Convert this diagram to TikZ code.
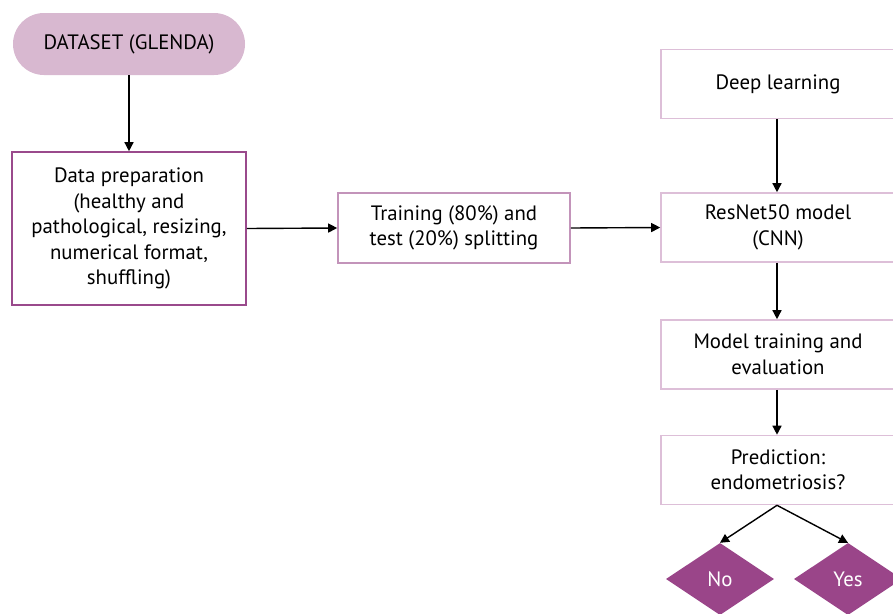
\documentclass[tikz,border=0pt]{standalone}
\usepackage{fontspec}
\setmainfont{PT Sans}
\usetikzlibrary{arrows.meta,shapes.geometric}
\definecolor{pillfill}{HTML}{D8B8D0}
\definecolor{darkpurple}{HTML}{9A4A8C}
\definecolor{midpurple}{HTML}{C394BA}
\definecolor{lightpurple}{HTML}{DDBFD8}
\definecolor{diafill}{HTML}{9A4589}
\begin{document}
\begin{tikzpicture}[x=1pt,y=-1pt,
  every node/.style={font=\fontsize{20.8}{25.5}\selectfont, align=center, text=black},
  conn/.style={line width=1.4pt, -{Triangle[length=9pt,width=9pt]}},
  boxA/.style={draw=darkpurple, line width=1.6pt, fill=white, minimum width=234pt, minimum height=153pt, inner sep=0pt},
  boxB/.style={draw=midpurple, line width=1.6pt, fill=white, minimum width=232pt, minimum height=70pt, inner sep=0pt},
  boxC/.style={draw=lightpurple, line width=1.6pt, fill=white, minimum width=234pt, minimum height=69pt, inner sep=0pt},
  dia/.style={diamond, fill=diafill, text=white, minimum width=108pt, minimum height=72pt, inner sep=0pt, aspect=1.5}
]
\useasboundingbox (0,0) rectangle (893,613);
\fill[white] (0,0) rectangle (893,613);

\node[fill=pillfill, rounded corners=31pt, minimum width=232pt, minimum height=62pt, inner sep=0pt] (ds) at (129,44) {DATASET (GLENDA)};
\node[boxA] (prep) at (129,228.5) {Data preparation\\(healthy and\\pathological, resizing,\\numerical format,\\shuffling)};
\node[boxB] (split) at (454,228) {Training (80\%) and\\test (20\%) splitting};
\node[boxC] (dl) at (778,84) {Deep learning};
\node[boxC] (res) at (778,227.5) {ResNet50 model\\(CNN)};
\node[boxC] (train) at (778,354.5) {Model training and\\evaluation};
\node[boxC] (pred) at (778,470) {Prediction:\\endometriosis?};
\node[dia] (no) at (720,579) {No};
\node[dia] (yes) at (848,579) {Yes};

\draw[conn] (ds.south) -- (prep.north);
\draw[conn] (prep.east) -- (split.west);
\draw[conn] (split.east) -- (res.west);
\draw[conn] (dl.south -| 777,0) -- (res.north -| 777,0);
\draw[conn] (res.south -| 777,0) -- (train.north -| 777,0);
\draw[conn] (train.south -| 777,0) -- (pred.north -| 777,0);
\coordinate (pb) at (pred.south -| 777,0);
\draw[conn] (pb) -- (no.north);
\draw[conn] (pb) -- (yes.north);
\end{tikzpicture}
\end{document}
